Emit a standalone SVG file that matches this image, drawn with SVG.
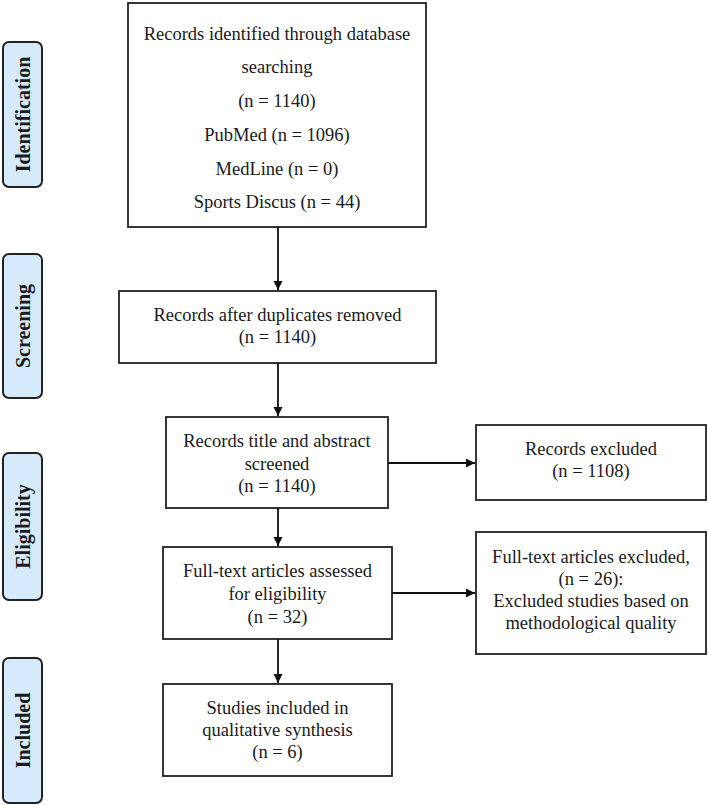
<svg xmlns="http://www.w3.org/2000/svg" width="708" height="805" viewBox="0 0 708 805">
<style>
.box{fill:#ffffff;stroke:#222222;stroke-width:1.8}
.side{fill:#d5ebfb;stroke:#222222;stroke-width:2}
.t{font-family:"Liberation Serif","Times New Roman",serif;font-size:18.5px;fill:#1a1a1a;text-anchor:middle}
.s{font-family:"Liberation Serif","Times New Roman",serif;font-size:20px;font-weight:bold;fill:#1a1a1a;text-anchor:middle}
.c{stroke:#111111;stroke-width:1.8;fill:none;marker-end:url(#ah)}
</style>
<defs>
<marker id="ah" markerWidth="10" markerHeight="10" refX="9" refY="5" orient="auto" markerUnits="userSpaceOnUse">
<path d="M0,0.5 L9,5 L0,9.5 Z" fill="#111111"/>
</marker>
</defs>
<rect width="708" height="805" fill="#ffffff"/>
<g id="stage-identification">
<rect class="side" x="3" y="42" width="39" height="145" rx="6"/>
<text class="s" transform="translate(22.5,114.5) rotate(-90)" x="0" y="7">Identification</text>
</g>
<g id="stage-screening">
<rect class="side" x="3" y="254" width="39" height="144" rx="6"/>
<text class="s" transform="translate(22.5,326) rotate(-90)" x="0" y="7">Screening</text>
</g>
<g id="stage-eligibility">
<rect class="side" x="3" y="453" width="39" height="147" rx="6"/>
<text class="s" transform="translate(22.5,526.5) rotate(-90)" x="0" y="7">Eligibility</text>
</g>
<g id="stage-included">
<rect class="side" x="3" y="658" width="39" height="145" rx="6"/>
<text class="s" transform="translate(22.5,730.5) rotate(-90)" x="0" y="7">Included</text>
</g>
<g id="identified">
<rect class="box" x="128" y="3" width="298" height="224"/>
<text class="t" x="277" y="40">Records identified through database</text>
<text class="t" x="277" y="73">searching</text>
<text class="t" x="277" y="107">(n = 1140)</text>
<text class="t" x="277" y="141">PubMed (n = 1096)</text>
<text class="t" x="277" y="175">MedLine (n = 0)</text>
<text class="t" x="277" y="208">Sports Discus (n = 44)</text>
</g>
<g id="deduplicated">
<rect class="box" x="119" y="291" width="317" height="72"/>
<text class="t" x="277.5" y="321">Records after duplicates removed</text>
<text class="t" x="277.5" y="343">(n = 1140)</text>
</g>
<g id="screened">
<rect class="box" x="166" y="417" width="222" height="91"/>
<text class="t" x="277" y="447">Records title and abstract</text>
<text class="t" x="277" y="470">screened</text>
<text class="t" x="277" y="492">(n = 1140)</text>
</g>
<g id="excluded-records">
<rect class="box" x="476" y="425" width="230" height="75"/>
<text class="t" x="591" y="455">Records excluded</text>
<text class="t" x="591" y="477">(n = 1108)</text>
</g>
<g id="fulltext">
<rect class="box" x="163" y="547" width="229" height="92"/>
<text class="t" x="277.5" y="577">Full-text articles assessed</text>
<text class="t" x="277.5" y="600">for eligibility</text>
<text class="t" x="277.5" y="623">(n = 32)</text>
</g>
<g id="excluded-fulltext">
<rect class="box" x="476" y="532" width="230" height="122"/>
<text class="t" x="591" y="563">Full-text articles excluded,</text>
<text class="t" x="591" y="585">(n = 26):</text>
<text class="t" x="591" y="607">Excluded studies based on</text>
<text class="t" x="591" y="629">methodological quality</text>
</g>
<g id="included">
<rect class="box" x="163" y="684" width="229" height="92"/>
<text class="t" x="277.5" y="714">Studies included in</text>
<text class="t" x="277.5" y="736">qualitative synthesis</text>
<text class="t" x="277.5" y="758">(n = 6)</text>
</g>
<g id="connectors">
<line class="c" x1="278" y1="227" x2="278" y2="290"/>
<line class="c" x1="278" y1="363" x2="278" y2="416"/>
<line class="c" x1="388" y1="463" x2="475" y2="463"/>
<line class="c" x1="278" y1="508" x2="278" y2="546"/>
<line class="c" x1="392" y1="593" x2="475" y2="593"/>
<line class="c" x1="278" y1="639" x2="278" y2="683"/>
</g>
</svg>
